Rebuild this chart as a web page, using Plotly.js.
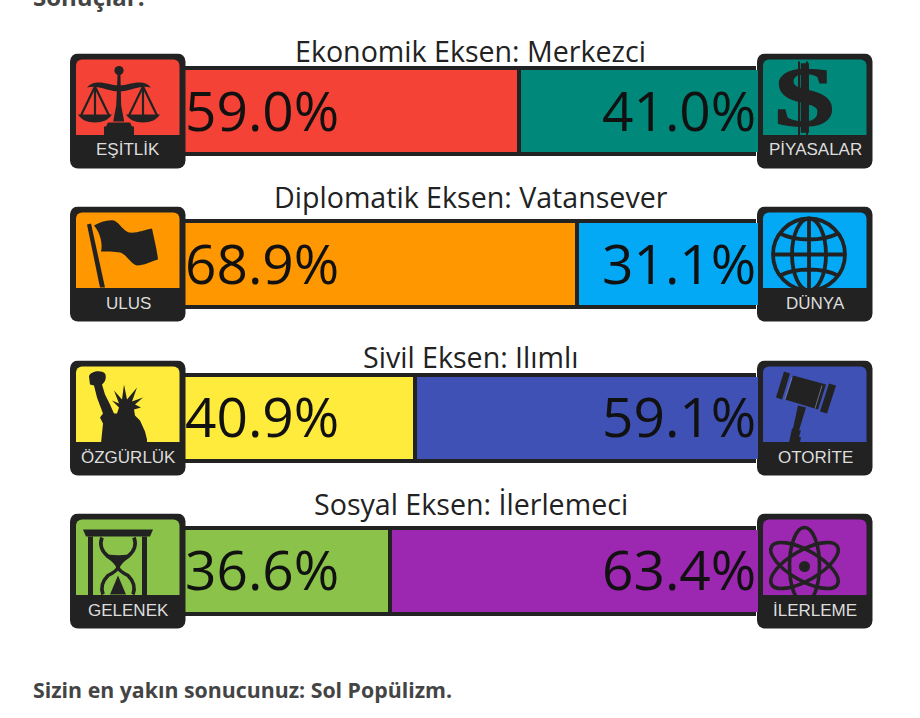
<!DOCTYPE html>
<html>
<head>
<meta charset="utf-8">
<script src="https://cdn.plot.ly/plotly-3.0.1.min.js"></script>
<style>html,body{margin:0;padding:0;background:#fff;overflow:hidden}#c{width:920px;height:718px}</style>
</head>
<body>
<div id="c"></div>
<script>
// ---- data ----
const axisTitles = ["Ekonomik Eksen: Merkezci","Diplomatik Eksen: Vatansever","Sivil Eksen: Ilımlı","Sosyal Eksen: İlerlemeci"];
const leftValues = [59.0,68.9,40.9,36.6];
const rightValues = [41.0,31.1,59.1,63.4];
const leftColors = ["#f44336","#ff9800","#ffeb3b","#8bc34a"];
const rightColors = ["#00897b","#03a9f4","#3f51b5","#9c27b0"];
const leftLabels = ["EŞİTLİK","ULUS","ÖZGÜRLÜK","GELENEK"];
const rightLabels = ["PİYASALAR","DÜNYA","OTORİTE","İLERLEME"];
const headingText = "Sonuçlar:";
const footerText = "Sizin en yakın sonucunuz: Sol Popülizm.";

// ---- layout helpers ----
const W = 920, H = 718;
const INK = "#222222";
const rowCenters = [111,264,418,571];
const titleRows = [50,196,356,503];
const px = x => x / W;
const py = y => 1 - y / H;
const rows = axisTitles.map((_, i) => i);

const glyphs = {
  scale: `<circle cx="49" cy="17" r="4.6" fill="${INK}"/>
    <path d="M47.6 20h2.8l.8 32 3 16h-11l3-16z" fill="${INK}"/>
    <path d="M38 69h22l2 4h2v9H34v-9h2z" fill="${INK}"/>
    <path d="M17 34c6-7 14-5 20-4 5 1 8 2 12 2s7-1 12-2c6-1 14-3 20 4-7-2-14 0-20 2-5 1-8 2-12 2s-7-1-12-2c-6-2-13-4-20-2z" fill="${INK}"/>
    <path d="M25 33L11 62M25 33L39 62M25 33v29M73 33L59 62M73 33L87 62M73 33v29" stroke="${INK}" stroke-width="2.2" fill="none"/>
    <path d="M8 61h34c-3 5-9 8-17 8s-14-3-17-8zM56 61h34c-3 5-9 8-17 8s-14-3-17-8z" fill="${INK}"/>`,
  dollar: `<path d="M42 8v74M50 8v74" stroke="${INK}" stroke-width="2"/>
    <g transform="translate(47.5 72) scale(1.42 1)"><text x="0" y="0" text-anchor="middle" font-family="Liberation Serif" font-weight="700" font-size="84" fill="${INK}" stroke="${INK}" stroke-width="1.6">$</text></g>`,
  flag: `<path d="M17 18l4-1 14 64h-5z" fill="${INK}"/>
    <path d="M24 19c6-3 13-6 20-5 6 3 9 10 15 12 8 1 16-3 23-4 2 10 5 21 6 31-7 2-14 6-21 6-7-2-10-11-17-13-6-1-14-1-19-1 2-8-1-19-7-26z" fill="${INK}"/>`,
  globe: `<g fill="none" stroke="${INK}" stroke-width="3.8"><circle cx="52" cy="48" r="36"/>
    <ellipse cx="52" cy="48" rx="17" ry="36"/><path d="M52 12v72M16 48h72M23 27c16 8 42 8 58 0M23 69c16-8 42-8 58 0"/></g>`,
  statue: `<path d="M19 16c1-5 12-7 16-3 2 4 0 9-3 11l3 10 5 10 4 9h3l2-6-7-7 7 3-5-13 8 9 2-15 3 15 10-12-5 14 11-4-8 7 6 3-7 2 1 6 5 5 5 11 2 8 0 4H31l2-20-3-6 3-4-6-16-3-12-4-1z" fill="${INK}"/>`,
  gavel: `<g fill="${INK}"><path d="M27 11l6 2-8 26-6-2z"/><path d="M72 23l7 2-9 28-7-2z"/><path d="M36 15l33 9-8 25-33-10z"/>
    <path d="M41 45l8 2-7 23h2l-2 6 2 1-1 5H32l3-14 1 0z"/></g>
    <path d="M35 17l-7 22M65 25l-7 23" stroke="#9aa0c8" stroke-width="1" opacity=".6"/>`,
  hourglass: `<path d="M13 16h70l-3 7H16z" fill="${INK}"/>
    <path d="M18 23h5v59h-5zM72 23h5v59h-5z" fill="${INK}"/>
    <path d="M32 24c-3 8 0 14 6 19 6 4 9 7 10 11 1-4 4-7 10-11 6-5 9-11 6-19M33 81c-3-8 0-14 5-19 6-3 9-5 10-8 1 3 4 5 10 8 5 5 8 11 5 19" fill="none" stroke="${INK}" stroke-width="3.6"/>
    <path d="M38 41c7 1 14 1 20 0-4 5-8 8-10 12-2-4-6-7-10-12zM48 62l8 19H40z" fill="${INK}"/>`,
  atom: `<g fill="none" stroke="${INK}" stroke-width="3.6"><ellipse cx="47.5" cy="52" rx="38" ry="15" transform="rotate(30 47.5 52)"/>
    <ellipse cx="47.5" cy="52" rx="38" ry="15" transform="rotate(-30 47.5 52)"/><ellipse cx="47.5" cy="52" rx="38" ry="15" transform="rotate(90 47.5 52)"/></g>
    <circle cx="47.5" cy="53" r="5.5" fill="${INK}"/>`
};
const leftGlyphs = ["scale","flag","statue","hourglass"];
const rightGlyphs = ["dollar","globe","gavel","atom"];

function badge(color, glyph){
  const svg = `<svg xmlns="http://www.w3.org/2000/svg" width="116" height="116" viewBox="0 0 116 116">
    <rect x="0" y="0" width="115.5" height="115" rx="8" fill="${INK}"/>
    <path d="M6 81.5V12a6 6 0 0 1 6-6h91.5a6 6 0 0 1 6 6v69.5z" fill="${color}"/>
    ${glyphs[glyph]}</svg>`;
  return "data:image/svg+xml;charset=utf-8," + encodeURIComponent(svg);
}
function badgeImage(x, cy, color, glyph){
  return {source:badge(color,glyph), xref:"paper", yref:"paper", x:px(x), y:py(cy-57.5),
    sizex:116/W, sizey:116/H, xanchor:"left", yanchor:"top", sizing:"stretch", layer:"above"};
}

const images = [];
const annotations = [];
const shapes = [];
function note(x,y,text,size,color,opts){
  annotations.push(Object.assign({xref:"paper",yref:"paper",x:px(x),y:py(y),text,showarrow:false,
    xanchor:"center",yanchor:"middle",font:{family:"Open Sans",size,color}},opts||{}));
}
const pctFont = {family:"Open Sans",size:55,color:"#111111"};
rows.forEach(i=>{
  const c = rowCenters[i];
  images.push(badgeImage(70,c,leftColors[i],leftGlyphs[i]));
  images.push(badgeImage(757,c,rightColors[i],rightGlyphs[i]));
  shapes.push({type:"rect",xref:"paper",yref:"paper",x0:px(752),x1:px(758),y0:py(c-41),y1:py(c+41),
    fillcolor:rightColors[i],line:{width:0},layer:"above"});
  note(470.5,titleRows[i],axisTitles[i],28.6,"#222222");
  const lab = {font:{family:"Liberation Sans",size:17,color:"#dddddd"}};
  note(128,c+39,leftLabels[i],17,"#dddddd",lab);
  note(815,c+39,rightLabels[i],17,"#dddddd",lab);
  annotations.push({xref:"x",yref:"y",x:0,y:i,text:leftValues[i].toFixed(1)+"%",showarrow:false,
    xanchor:"left",yanchor:"middle",xshift:4,yshift:2,font:pctFont});
  annotations.push({xref:"x",yref:"y",x:100,y:i,text:rightValues[i].toFixed(1)+"%",showarrow:false,
    xanchor:"right",yanchor:"middle",xshift:2,yshift:2,font:pctFont});
});
note(31,-4,"<b>"+headingText+"</b>",24,"#444444",{xanchor:"left"});
note(31,689.5,"<b>"+footerText+"</b>",21.3,"#444444",{xanchor:"left"});

function barTrace(values, colors){
  return {type:"bar",orientation:"h",y:rows,x:values,width:0.561,
    marker:{color:colors,line:{color:INK,width:4}},hoverinfo:"skip"};
}

Plotly.newPlot("c",[barTrace(leftValues,leftColors),barTrace(rightValues,rightColors)],{
  width:W,height:H,margin:{l:0,r:0,t:0,b:0,pad:0},paper_bgcolor:"#ffffff",plot_bgcolor:"#ffffff",
  barmode:"stack",showlegend:false,
  xaxis:{domain:[px(179),px(756)],range:[0,100],visible:false,fixedrange:true},
  yaxis:{range:[3.959,-0.724],visible:false,fixedrange:true},
  images,annotations,shapes
},{staticPlot:true,displayModeBar:false});
</script>
</body>
</html>
